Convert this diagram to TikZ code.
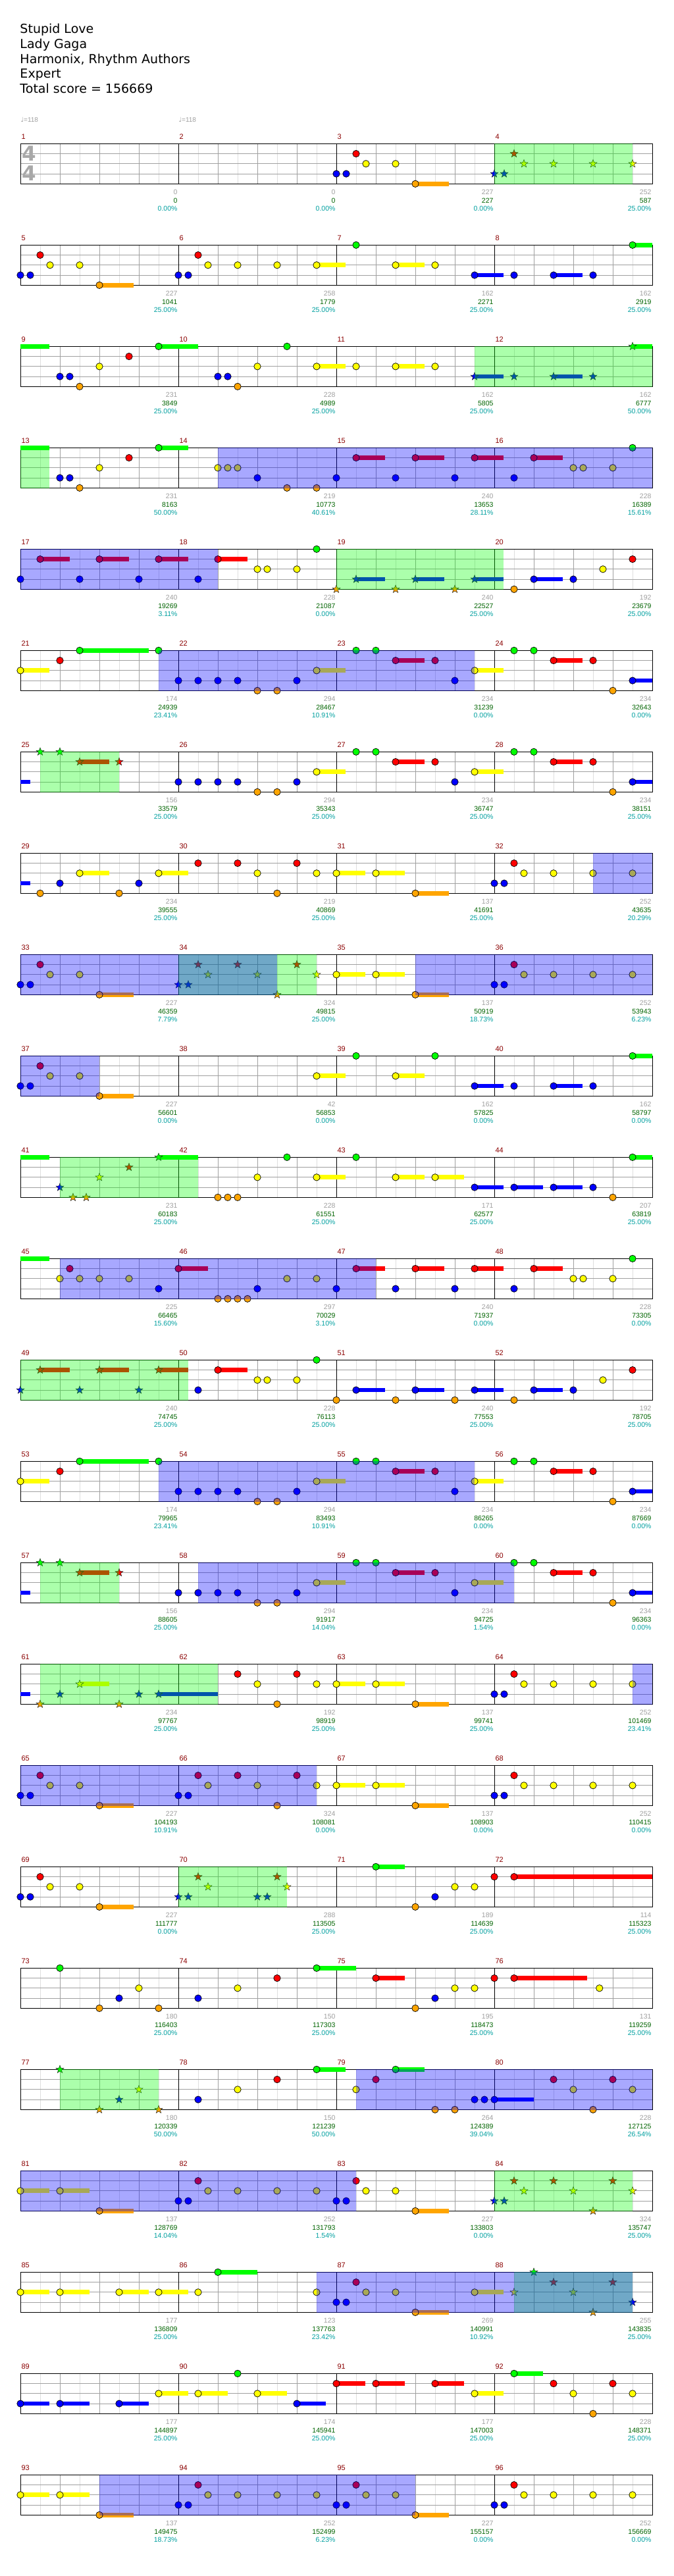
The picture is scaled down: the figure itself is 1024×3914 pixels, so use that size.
\documentclass[tikz,border=0pt]{standalone}
\usepackage{fontspec}
\setmainfont{DejaVu Sans}
\newfontfamily\smallf{Liberation Sans}
\usetikzlibrary{shapes.geometric}
\definecolor{lane0}{RGB}{0,255,0}
\definecolor{lane1}{RGB}{255,0,0}
\definecolor{lane2}{RGB}{255,255,0}
\definecolor{lane3}{RGB}{0,0,255}
\definecolor{lane4}{RGB}{255,165,0}
\definecolor{gridbeat}{RGB}{160,160,160}
\definecolor{gridhalf}{RGB}{222,222,222}
\definecolor{mnum}{RGB}{139,0,0}
\definecolor{tgray}{RGB}{160,160,160}
\definecolor{tgreen}{RGB}{0,100,0}
\definecolor{tcyan}{RGB}{0,160,160}
\definecolor{tsig}{RGB}{168,168,168}
\definecolor{spgreen}{RGB}{0,255,0}
\definecolor{actblue}{RGB}{0,0,255}
\newcommand\px[1]{31+15*(#1)}
\newcommand\py[1]{\rowT+15.25*(#1)}
\newcommand\mc[2]{\draw[circnote, fill=lane#2] ({\px{#1}},{\py{#2}}) circle[radius=5.2];}
\newcommand\msu[3]{\fill[lane#3] ({\px{#1}},{\py{#3}-3.4}) rectangle ({\px{#2}},{\py{#3}+3.4});}
\newcommand\mcs[3]{\msu{#1}{#3}{#2}\mc{#1}{#2}}
\newcommand\ms[2]{\node[starnote, fill=lane#2] at ({\px{#1}},{\py{#2}}) {};}
\newcommand\mss[3]{\msu{#1}{#3}{#2}\ms{#1}{#2}}
\newcommand\mzg[2]{\fill[spgreen, opacity=0.33] ({\px{#1}},{\rowT-0.6}) rectangle ({\px{#2}},{\rowT+61.6});}
\newcommand\mzb[2]{\fill[actblue, opacity=0.34] ({\px{#1}},{\rowT-0.6}) rectangle ({\px{#2}},{\rowT+61.6});}
\newcommand\rowbase[1]{%
  \pgfmathsetmacro\rowT{218.3+154*(#1-1)}%
  \foreach \i in {0,...,15} \draw[gridhalf] ({31+30*(2*\i+1)},{\rowT}) -- ++(0,61);
  \foreach \i in {1,...,15} \draw[gridbeat] ({31+60*\i},{\rowT}) -- ++(0,61);
  \foreach \i in {1,2,3} \draw[gridbeat] (31,{\py{\i}}) -- (991,{\py{\i}});
  \foreach \i in {1,2,3} \draw[black] ({31+240*\i},{\rowT}) -- ++(0,61);
  \draw[black] (31,{\rowT}) rectangle (991,{\rowT+61});
  \foreach \k in {1,...,4} \node[measnum] at ({32+240*(\k-1)},{\rowT-7.3}) {\the\numexpr4*(#1-1)+\k\relax};
}
\newcommand\lab[4]{%
  \node[labgray] at ({30+240*#1},{\rowT+77}) {#2};
  \node[labgreen] at ({30+240*#1},{\rowT+90}) {#3};
  \node[labpct] at ({30+240*#1},{\rowT+102.5}) {#4\%};}
\tikzset{
  circnote/.style={draw=black, line width=0.7pt},
  starnote/.style={star, star points=5, star point ratio=2.4, minimum size=12.5pt, inner sep=0pt, draw=black!85, line width=0.5pt},
  measnum/.style={anchor=base west, inner sep=0pt, text=mnum, font=\smallf\fontsize{11}{13}\selectfont},
  labgray/.style={anchor=base east, inner sep=0pt, text=tgray, font=\smallf\fontsize{10.5}{12}\selectfont},
  labgreen/.style={anchor=base east, inner sep=0pt, text=tgreen, font=\smallf\fontsize{10.5}{12}\selectfont},
  labpct/.style={anchor=base east, inner sep=0pt, text=tcyan, font=\smallf\fontsize{10.5}{12}\selectfont},
  titletext/.style={anchor=base west, inner sep=0pt, font=\fontsize{19}{23}\selectfont},
  tempotext/.style={anchor=base west, inner sep=0pt, text=tgray, font=\fontsize{10}{12}\selectfont},
  tsigtext/.style={inner sep=0pt, text=tsig, font=\bfseries\fontsize{31}{31}\selectfont}
}
\begin{document}
\begin{tikzpicture}[x=1pt, y=-1pt, line width=1pt]
\fill[white] (0,0) rectangle (1024,3914);
\useasboundingbox (0,0) rectangle (1024,3914);
\node[titletext] (t1) at (30,50) {Stupid Love};
\node[titletext] (t2) at (30,73) {Lady Gaga};
\node[titletext] (t3) at (30,96) {Harmonix, Rhythm Authors};
\node[titletext] (t4) at (30,118.7) {Expert};
\node[titletext] (t5) at (30,141.4) {Total score = 156669};
\node[tempotext] (tp1) at (31,185) {♩{\smallf=118}};
\node[tempotext] (tp2) at (271,185) {♩{\smallf=118}};
% Row 1
\rowbase{1}
\node[tsigtext] (ts1) at (44,233.5) {4};
\node[tsigtext] (ts2) at (44,263.5) {4};
\lab{1}{0}{0}{0.00}\lab{2}{0}{0}{0.00}\lab{3}{227}{227}{0.00}\lab{4}{252}{587}{25.00}
\mc{32}{3}\mc{33}{3}\mc{34}{1}\mc{35}{2}\mc{38}{2}\mcs{40}{4}{43.43}
\ms{48}{3}\ms{49}{3}\ms{50}{1}\ms{51}{2}\ms{54}{2}\ms{58}{2}\ms{62}{2}
\mzg{48}{62}
% Row 2
\rowbase{2}
\lab{1}{227}{1041}{25.00}\lab{2}{258}{1779}{25.00}\lab{3}{162}{2271}{25.00}\lab{4}{162}{2919}{25.00}
\mc{0}{3}\mc{1}{3}\mc{2}{1}\mc{3}{2}\mc{6}{2}\mcs{8}{4}{11.48}
\mc{16}{3}\mc{17}{3}\mc{18}{1}\mc{19}{2}\mc{22}{2}\mc{26}{2}\mcs{30}{2}{32.96}
\mc{34}{0}\mcs{38}{2}{40.96}\mc{42}{2}\mcs{46}{3}{48.96}
\mc{50}{3}\mcs{54}{3}{56.96}\mc{58}{3}\mcs{62}{0}{64}
% Row 3
\rowbase{3}
\lab{1}{231}{3849}{25.00}\lab{2}{228}{4989}{25.00}\lab{3}{162}{5805}{25.00}\lab{4}{162}{6777}{50.00}
\msu{0}{2.96}{0}
\mc{4}{3}\mc{5}{3}\mc{6}{4}\mc{8}{2}\mc{11}{1}\mcs{14}{0}{18}
\mc{20}{3}\mc{21}{3}\mc{22}{4}\mc{24}{2}\mc{27}{0}
\mcs{30}{2}{32.96}\mc{34}{2}\mcs{38}{2}{40.96}\mc{42}{2}
\mss{46}{3}{48.96}\ms{50}{3}\mss{54}{3}{56.96}\ms{58}{3}\mss{62}{0}{64}
\mzg{46}{64}
% Row 4
\rowbase{4}
\lab{1}{231}{8163}{50.00}\lab{2}{219}{10773}{40.61}\lab{3}{240}{13653}{28.11}\lab{4}{228}{16389}{15.61}
\msu{0}{2.96}{0}
\mc{4}{3}\mc{5}{3}\mc{6}{4}\mc{8}{2}\mc{11}{1}\mcs{14}{0}{17}
\mc{20}{2}\mc{21}{2}\mc{22}{2}\mc{24}{3}\mc{27}{4}\mc{30}{4}\mc{32}{3}\mcs{34}{1}{36.96}\mc{38}{3}\mcs{40}{1}{42.96}\mc{44}{3}\mcs{46}{1}{48.96}\mc{50}{3}\mcs{52}{1}{54.96}\mc{56}{2}\mc{57}{2}\mc{60}{2}\mc{62}{0}
\mzg{0}{2.96}\mzb{20}{64}
% Row 5
\rowbase{5}
\lab{1}{240}{19269}{3.11}\lab{2}{228}{21087}{0.00}\lab{3}{240}{22527}{25.00}\lab{4}{192}{23679}{25.00}
\mc{0}{3}\mcs{2}{1}{5}\mc{6}{3}\mcs{8}{1}{11}\mc{12}{3}\mcs{14}{1}{17}\mc{18}{3}\mcs{20}{1}{23}\mc{24}{2}\mc{25}{2}\mc{28}{2}\mc{30}{0}
\ms{32}{4}\mss{34}{3}{36.96}\ms{38}{4}\mss{40}{3}{42.96}\ms{44}{4}\mss{46}{3}{48.96}
\mc{50}{4}\mcs{52}{3}{54.96}\mc{56}{3}\mc{59}{2}\mc{62}{1}
\mzb{0}{20}\mzg{32}{48.96}
% Row 6
\rowbase{6}
\lab{1}{174}{24939}{23.41}\lab{2}{294}{28467}{10.91}\lab{3}{234}{31239}{0.00}\lab{4}{234}{32643}{0.00}
\mcs{0}{2}{2.96}\mc{4}{1}\mcs{6}{0}{13}\mc{14}{0}
\mc{16}{3}\mc{18}{3}\mc{20}{3}\mc{22}{3}\mc{24}{4}\mc{26}{4}\mc{28}{3}\mcs{30}{2}{32.96}\mc{34}{0}\mc{36}{0}\mcs{38}{1}{40.96}\mc{42}{1}\mc{44}{3}
\mcs{46}{2}{48.96}\mc{50}{0}\mc{52}{0}\mcs{54}{1}{56.96}\mc{58}{1}\mc{60}{4}\mcs{62}{3}{64}
\mzb{14}{46}
% Row 7
\rowbase{7}
\lab{1}{156}{33579}{25.00}\lab{2}{294}{35343}{25.00}\lab{3}{234}{36747}{25.00}\lab{4}{234}{38151}{25.00}
\msu{0}{1}{3}
\ms{2}{0}\ms{4}{0}\mss{6}{1}{9}\ms{10}{1}
\mc{16}{3}\mc{18}{3}\mc{20}{3}\mc{22}{3}\mc{24}{4}\mc{26}{4}\mc{28}{3}\mcs{30}{2}{32.96}\mc{34}{0}\mc{36}{0}\mcs{38}{1}{40.96}\mc{42}{1}\mc{44}{3}\mcs{46}{2}{48.96}\mc{50}{0}\mc{52}{0}\mcs{54}{1}{56.96}\mc{58}{1}\mc{60}{4}\mcs{62}{3}{64}
\mzg{2}{10}
% Row 8
\rowbase{8}
\lab{1}{234}{39555}{25.00}\lab{2}{219}{40869}{25.00}\lab{3}{137}{41691}{25.00}\lab{4}{252}{43635}{20.29}
\msu{0}{1}{3}
\mc{2}{4}\mc{4}{3}\mcs{6}{2}{9}\mc{10}{4}\mc{12}{3}\mcs{14}{2}{17}\mc{18}{1}\mc{22}{1}\mc{24}{2}\mc{26}{4}\mc{28}{1}\mc{30}{2}\mcs{32}{2}{34.96}\mcs{36}{2}{38.96}\mcs{40}{4}{43.43}\mc{48}{3}\mc{49}{3}\mc{50}{1}\mc{51}{2}\mc{54}{2}\mc{58}{2}\mc{62}{2}
\mzb{58}{64}
% Row 9
\rowbase{9}
\lab{1}{227}{46359}{7.79}\lab{2}{324}{49815}{25.00}\lab{3}{137}{50919}{18.73}\lab{4}{252}{53943}{6.23}
\mc{0}{3}\mc{1}{3}\mc{2}{1}\mc{3}{2}\mc{6}{2}\mcs{8}{4}{11.48}
\ms{16}{3}\ms{17}{3}\ms{18}{1}\ms{19}{2}\ms{22}{1}\ms{24}{2}\ms{26}{4}\ms{28}{1}\ms{30}{2}
\mcs{32}{2}{34.96}\mcs{36}{2}{38.96}\mcs{40}{4}{43.43}\mc{48}{3}\mc{49}{3}\mc{50}{1}\mc{51}{2}\mc{54}{2}\mc{58}{2}\mc{62}{2}
\mzg{16}{30}\mzb{0}{26}\mzb{40}{64}
% Row 10
\rowbase{10}
\lab{1}{227}{56601}{0.00}\lab{2}{42}{56853}{0.00}\lab{3}{162}{57825}{0.00}\lab{4}{162}{58797}{0.00}
\mc{0}{3}\mc{1}{3}\mc{2}{1}\mc{3}{2}\mc{6}{2}\mcs{8}{4}{11.48}
\mcs{30}{2}{32.96}\mc{34}{0}\mcs{38}{2}{40.96}\mc{42}{0}\mcs{46}{3}{48.96}\mc{50}{3}\mcs{54}{3}{56.96}\mc{58}{3}\mcs{62}{0}{64}
\mzb{0}{8}
% Row 11
\rowbase{11}
\lab{1}{231}{60183}{25.00}\lab{2}{228}{61551}{25.00}\lab{3}{171}{62577}{25.00}\lab{4}{207}{63819}{25.00}
\msu{0}{2.96}{0}
\ms{4}{3}\ms{5.33}{4}\ms{6.67}{4}\ms{8}{2}\ms{11}{1}\mss{14}{0}{18}
\mc{20}{4}\mc{21}{4}\mc{22}{4}\mc{24}{2}\mc{27}{0}\mcs{30}{2}{32.96}\mc{34}{0}\mcs{38}{2}{40.96}\mcs{42}{2}{44.96}\mcs{46}{3}{48.96}\mcs{50}{3}{52.96}\mcs{54}{3}{56.96}\mc{58}{3}\mc{60}{4}\mcs{62}{0}{64}
\mzg{4}{18}
% Row 12
\rowbase{12}
\lab{1}{225}{66465}{15.60}\lab{2}{297}{70029}{3.10}\lab{3}{240}{71937}{0.00}\lab{4}{228}{73305}{0.00}
\msu{0}{2.96}{0}
\mc{4}{2}\mc{5}{1}\mc{6}{2}\mc{8}{2}\mc{11}{2}\mc{14}{3}\mcs{16}{1}{19}\mc{20}{4}\mc{21}{4}\mc{22}{4}\mc{23}{4}\mc{24}{3}\mc{27}{2}\mc{30}{2}\mc{32}{3}\mcs{34}{1}{36.96}\mc{38}{3}\mcs{40}{1}{42.96}\mc{44}{3}\mcs{46}{1}{48.96}\mc{50}{3}\mcs{52}{1}{54.96}\mc{56}{2}\mc{57}{2}\mc{60}{2}\mc{62}{0}
\mzb{4}{36}
% Row 13
\rowbase{13}
\lab{1}{240}{74745}{25.00}\lab{2}{228}{76113}{25.00}\lab{3}{240}{77553}{25.00}\lab{4}{192}{78705}{25.00}
\ms{0}{3}\mss{2}{1}{5}\ms{6}{3}\mss{8}{1}{11}\ms{12}{3}\mss{14}{1}{17}
\mc{18}{3}\mcs{20}{1}{23}\mc{24}{2}\mc{25}{2}\mc{28}{2}\mc{30}{0}\mc{32}{4}\mcs{34}{3}{36.96}\mc{38}{4}\mcs{40}{3}{42.96}\mc{44}{4}\mcs{46}{3}{48.96}\mc{50}{4}\mcs{52}{3}{54.96}\mc{56}{3}\mc{59}{2}\mc{62}{1}
\mzg{0}{17}
% Row 14
\rowbase{14}
\lab{1}{174}{79965}{23.41}\lab{2}{294}{83493}{10.91}\lab{3}{234}{86265}{0.00}\lab{4}{234}{87669}{0.00}
\mcs{0}{2}{2.96}\mc{4}{1}\mcs{6}{0}{13}\mc{14}{0}
\mc{16}{3}\mc{18}{3}\mc{20}{3}\mc{22}{3}\mc{24}{4}\mc{26}{4}\mc{28}{3}\mcs{30}{2}{32.96}\mc{34}{0}\mc{36}{0}\mcs{38}{1}{40.96}\mc{42}{1}\mc{44}{3}
\mcs{46}{2}{48.96}\mc{50}{0}\mc{52}{0}\mcs{54}{1}{56.96}\mc{58}{1}\mc{60}{4}\mcs{62}{3}{64}
\mzb{14}{46}
% Row 15
\rowbase{15}
\lab{1}{156}{88605}{25.00}\lab{2}{294}{91917}{14.04}\lab{3}{234}{94725}{1.54}\lab{4}{234}{96363}{0.00}
\msu{0}{1}{3}
\ms{2}{0}\ms{4}{0}\mss{6}{1}{9}\ms{10}{1}
\mc{16}{3}\mc{18}{3}\mc{20}{3}\mc{22}{3}\mc{24}{4}\mc{26}{4}\mc{28}{3}\mcs{30}{2}{32.96}\mc{34}{0}\mc{36}{0}\mcs{38}{1}{40.96}\mc{42}{1}\mc{44}{3}\mcs{46}{2}{48.96}\mc{50}{0}\mc{52}{0}\mcs{54}{1}{56.96}\mc{58}{1}\mc{60}{4}\mcs{62}{3}{64}
\mzg{2}{10}\mzb{18}{50}
% Row 16
\rowbase{16}
\lab{1}{234}{97767}{25.00}\lab{2}{192}{98919}{25.00}\lab{3}{137}{99741}{25.00}\lab{4}{252}{101469}{23.41}
\msu{0}{1}{3}
\ms{2}{4}\ms{4}{3}\mss{6}{2}{9}\ms{10}{4}\ms{12}{3}\mss{14}{3}{20}
\mc{22}{1}\mc{24}{2}\mc{26}{4}\mc{28}{1}\mc{30}{2}\mcs{32}{2}{34.96}\mcs{36}{2}{38.96}\mcs{40}{4}{43.43}\mc{48}{3}\mc{49}{3}\mc{50}{1}\mc{51}{2}\mc{54}{2}\mc{58}{2}\mc{62}{2}
\mzg{2}{20}\mzb{62}{64}
% Row 17
\rowbase{17}
\lab{1}{227}{104193}{10.91}\lab{2}{324}{108081}{0.00}\lab{3}{137}{108903}{0.00}\lab{4}{252}{110415}{0.00}
\mc{0}{3}\mc{1}{3}\mc{2}{1}\mc{3}{2}\mc{6}{2}\mcs{8}{4}{11.48}
\mc{16}{3}\mc{17}{3}\mc{18}{1}\mc{19}{2}\mc{22}{1}\mc{24}{2}\mc{26}{4}\mc{28}{1}\mc{30}{2}
\mcs{32}{2}{34.96}\mcs{36}{2}{38.96}\mcs{40}{4}{43.43}\mc{48}{3}\mc{49}{3}\mc{50}{1}\mc{51}{2}\mc{54}{2}\mc{58}{2}\mc{62}{2}
\mzb{0}{30}
% Row 18
\rowbase{18}
\lab{1}{227}{111777}{0.00}\lab{2}{288}{113505}{25.00}\lab{3}{189}{114639}{25.00}\lab{4}{114}{115323}{25.00}
\mc{0}{3}\mc{1}{3}\mc{2}{1}\mc{3}{2}\mc{6}{2}\mcs{8}{4}{11.48}
\ms{16}{3}\ms{17}{3}\ms{18}{1}\ms{19}{2}\ms{24}{3}\ms{25}{3}\ms{26}{1}\ms{27}{2}
\mcs{36}{0}{38.96}\mc{40}{4}\mc{42}{3}\mc{44}{2}\mc{46}{2}\mc{48}{1}\mcs{50}{1}{64}
\mzg{16}{27}
% Row 19
\rowbase{19}
\lab{1}{180}{116403}{25.00}\lab{2}{150}{117303}{25.00}\lab{3}{195}{118473}{25.00}\lab{4}{131}{119259}{25.00}
\mc{4}{0}\mc{8}{4}\mc{10}{3}\mc{12}{2}\mc{14}{4}\mc{18}{3}\mc{22}{2}\mc{26}{1}\mcs{30}{0}{34}\mcs{36}{1}{38.96}\mc{40}{4}\mc{42}{3}\mc{44}{2}\mc{46}{2}\mc{48}{1}\mcs{50}{1}{57.39}\mc{58.65}{2}
% Row 20
\rowbase{20}
\lab{1}{180}{120339}{50.00}\lab{2}{150}{121239}{50.00}\lab{3}{264}{124389}{39.04}\lab{4}{228}{127125}{26.54}
\ms{4}{0}\ms{8}{4}\ms{10}{3}\ms{12}{2}\ms{14}{4}
\mc{18}{3}\mc{22}{2}\mc{26}{1}\mcs{30}{0}{32.96}\mc{34}{2}\mc{36}{1}\mcs{38}{0}{40.96}\mc{42}{4}\mc{44}{4}\mc{46}{3}\mc{47}{3}\mcs{48}{3}{52}\mc{54}{1}\mc{56}{2}\mc{58}{4}\mc{60}{1}\mc{62}{2}
\mzg{4}{14}\mzb{34}{64}
% Row 21
\rowbase{21}
\lab{1}{137}{128769}{14.04}\lab{2}{252}{131793}{1.54}\lab{3}{227}{133803}{0.00}\lab{4}{324}{135747}{25.00}
\mcs{0}{2}{2.96}\mcs{4}{2}{7}\mcs{8}{4}{11.48}\mc{16}{3}\mc{17}{3}\mc{18}{1}\mc{19}{2}\mc{22}{2}\mc{26}{2}\mc{30}{2}\mc{32}{3}\mc{33}{3}\mc{34}{1}\mc{35}{2}\mc{38}{2}\mcs{40}{4}{43.43}
\ms{48}{3}\ms{49}{3}\ms{50}{1}\ms{51}{2}\ms{54}{1}\ms{56}{2}\ms{58}{4}\ms{60}{1}\ms{62}{2}
\mzb{0}{34}\mzg{48}{62}
% Row 22
\rowbase{22}
\lab{1}{177}{136809}{25.00}\lab{2}{123}{137763}{23.42}\lab{3}{269}{140991}{10.92}\lab{4}{255}{143835}{25.00}
\mcs{0}{2}{2.96}\mcs{4}{2}{7}\mcs{10}{2}{13}\mcs{14}{2}{17}\mc{18}{2}\mcs{20}{0}{24}
\mc{30}{2}\mc{32}{3}\mc{33}{3}\mc{34}{1}\mc{35}{2}\mc{38}{2}\mcs{40}{4}{43.43}\mcs{46}{2}{48.96}
\ms{50}{2}\ms{52}{0}\ms{54}{1}\ms{56}{2}\ms{58}{4}\ms{60}{1}\ms{62}{3}
\mzg{50}{62}\mzb{30}{62}
% Row 23
\rowbase{23}
\lab{1}{177}{144897}{25.00}\lab{2}{174}{145941}{25.00}\lab{3}{177}{147003}{25.00}\lab{4}{228}{148371}{25.00}
\mcs{0}{3}{2.96}\mcs{4}{3}{7}\mcs{10}{3}{13}\mcs{14}{2}{17}\mcs{18}{2}{21}\mc{22}{0}\mcs{24}{2}{27}\mcs{28}{3}{30.96}\mcs{32}{1}{34.96}\mcs{36}{1}{38.96}\mcs{42}{1}{44.96}\mcs{46}{2}{48.96}\mcs{50}{0}{52.96}\mc{54}{1}\mc{56}{2}\mc{58}{4}\mc{60}{1}\mc{62}{2}
% Row 24
\rowbase{24}
\lab{1}{137}{149475}{18.73}\lab{2}{252}{152499}{6.23}\lab{3}{227}{155157}{0.00}\lab{4}{252}{156669}{0.00}
\mcs{0}{2}{2.96}\mcs{4}{2}{7}\mcs{8}{4}{11.48}\mc{16}{3}\mc{17}{3}\mc{18}{1}\mc{19}{2}\mc{22}{2}\mc{26}{2}\mc{30}{2}\mc{32}{3}\mc{33}{3}\mc{34}{1}\mc{35}{2}\mc{38}{2}\mcs{40}{4}{43.43}\mc{48}{3}\mc{49}{3}\mc{50}{1}\mc{51}{2}\mc{54}{2}\mc{58}{2}\mc{62}{2}
\mzb{8}{40}
\end{tikzpicture}
\end{document}
